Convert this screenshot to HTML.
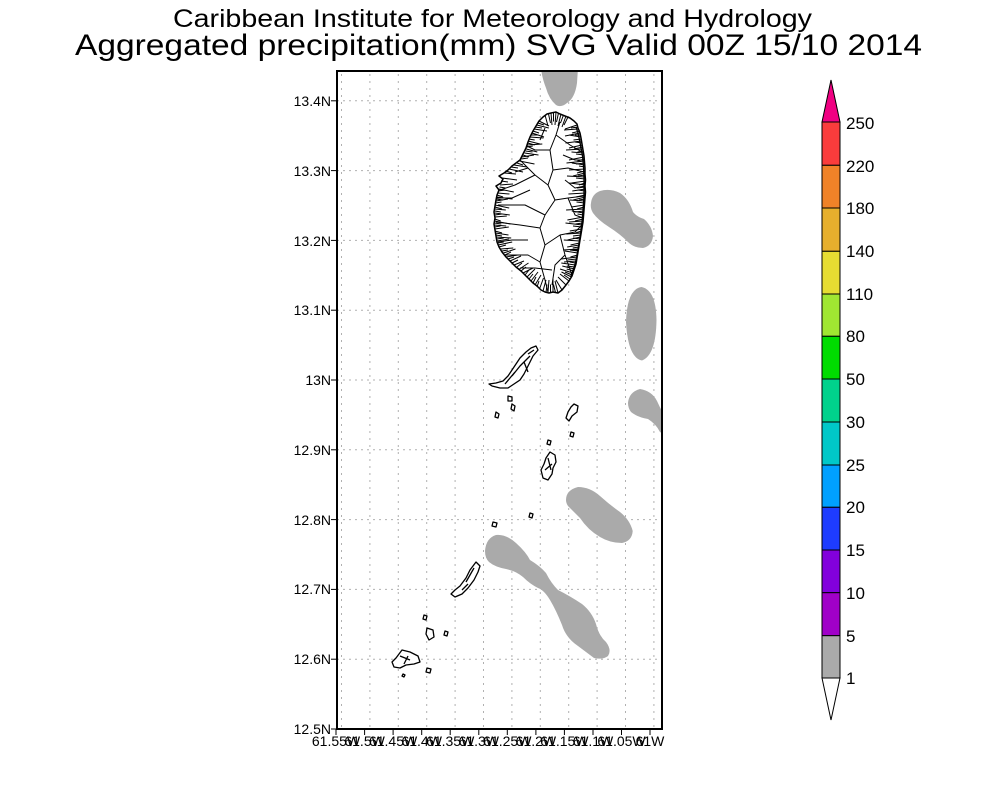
<!DOCTYPE html>
<html>
<head>
<meta charset="utf-8">
<style>
  html,body{margin:0;padding:0;background:#fff;}
  svg{display:block;}
  text{font-family:"Liberation Sans",sans-serif;fill:#000;}
</style>
</head>
<body>
<svg width="1000" height="800" viewBox="0 0 1000 800" xmlns="http://www.w3.org/2000/svg">
  <rect x="0" y="0" width="1000" height="800" fill="#fff"/>

  <!-- Titles -->
  <text x="173" y="27" font-size="25" textLength="639" lengthAdjust="spacingAndGlyphs">Caribbean Institute for Meteorology and Hydrology</text>
  <text x="75" y="55" font-size="30" textLength="847" lengthAdjust="spacingAndGlyphs">Aggregated precipitation(mm) SVG Valid 00Z 15/10 2014</text>

  <defs>
    <clipPath id="plot"><rect x="337" y="72" width="325" height="656"/></clipPath>
  </defs>

  <!-- Grid lines -->
  <g stroke="#b0b0b0" stroke-width="1" fill="none">
    <g stroke-dasharray="2,4">
      <line x1="337" y1="100.8" x2="662" y2="100.8"/>
      <line x1="337" y1="170.6" x2="662" y2="170.6"/>
      <line x1="337" y1="240.4" x2="662" y2="240.4"/>
      <line x1="337" y1="310.2" x2="662" y2="310.2"/>
      <line x1="337" y1="380" x2="662" y2="380"/>
      <line x1="337" y1="449.8" x2="662" y2="449.8"/>
      <line x1="337" y1="519.6" x2="662" y2="519.6"/>
      <line x1="337" y1="589.4" x2="662" y2="589.4"/>
      <line x1="337" y1="659.2" x2="662" y2="659.2"/>
    </g>
    <g stroke-dasharray="2,5">
      <line x1="341.5" y1="74" x2="341.5" y2="728"/>
      <line x1="369.9" y1="74" x2="369.9" y2="728"/>
      <line x1="398.3" y1="74" x2="398.3" y2="728"/>
      <line x1="426.7" y1="74" x2="426.7" y2="728"/>
      <line x1="455.1" y1="74" x2="455.1" y2="728"/>
      <line x1="483.5" y1="74" x2="483.5" y2="728"/>
      <line x1="511.9" y1="74" x2="511.9" y2="728"/>
      <line x1="540.3" y1="74" x2="540.3" y2="728"/>
      <line x1="568.7" y1="74" x2="568.7" y2="728"/>
      <line x1="597.1" y1="74" x2="597.1" y2="728"/>
      <line x1="625.5" y1="74" x2="625.5" y2="728"/>
      <line x1="653.9" y1="74" x2="653.9" y2="728"/>
    </g>
  </g>

  <!-- Precipitation blobs -->
  <g fill="#aaaaaa" clip-path="url(#plot)">
    <path d="M541,68 L578,68 L577,83 Q575,98 567,103 Q561,108 556,105 Q549,99 546,88 Q542,78 541,68 Z"/>
    <path d="M591,203 Q592,194 600,191 Q610,188 620,193 Q629,199 633,212 Q637,217 644,219 Q652,226 653,236 Q652,246 643,248 Q634,248 628,242 Q620,234 609,227 Q598,220 593,213 Q590,208 591,203 Z"/>
    <path d="M641.5,287 Q656,290 656.5,320 Q656,355 642,360.5 Q628,358 626,322 Q627,289 641.5,287 Z"/>
    <path d="M628,403 Q629,392 640,389 Q652,391 657,401 Q661,410 665,416 L665,435 L660,432 Q656,424 648,419 Q637,417 631,412 Q628,408 628,403 Z"/>
    <path d="M566,500 Q566,490 578,487 Q590,487 600,496 Q610,505 620,512 Q630,520 632.7,531 Q632,541 622,543 Q610,543 600,537 Q588,530 580,518 Q572,510 568,506 Q566,503 566,500 Z"/>
    <path d="M485,551 Q486,538 496,535 Q506,534 516,543 Q526,552 530,560 Q540,566 546,573 Q551,583 558,590 Q570,596 582,604 Q592,612 596,624 Q599,636 606,642 Q612,650 608,656 Q603,660 594,658 Q586,652 578,646 Q566,638 562,625 Q556,610 550,600 Q544,590 538,588 Q530,584 523,577 Q516,571 506,569 Q495,567 489,562 Q485,558 485,551 Z"/>
  </g>

  <!-- St Vincent -->
  <g fill="none" stroke="#000" stroke-width="1" stroke-linejoin="round">
    <path fill="#fff" stroke-width="1.5" d="M551,113 L556,112 L560,114 L565,116 L570,118 L574,121 L577,124 L578,128 L580,133 L581,138 L582,144 L583,150 L584,156 L584.5,162 L585,168 L585,174 L585.5,180 L585,186 L585.5,192 L585,198 L584.5,204 L584,210 L583.5,216 L583,222 L582,228 L581,234 L580,240 L579,246 L578,252 L577,258 L576,264 L574,270 L572,276 L569,281 L566,285 L562,290 L558,293 L553,292 L549,293 L545,292 L541,290 L537,286 L533,283 L529,279 L525,275 L521,271 L516,267 L511,262 L506,257 L502,252 L499,247 L497,242 L496,236 L495,230 L494,224 L495,218 L494,212 L495,206 L496,200 L497,195 L499,190 L496,186 L501,183 L503,179 L499,176 L504,173 L508,170 L512,166 L516,163 L520,160 L523,154 L526,148 L528,142 L530,137 L533,131 L536,126 L539,121 L543,117 L547,114 Z"/>
    <!-- inner thick east coast edge -->
    <path stroke-width="1.3" d="M576,127 L578,133 L579.5,140 L581,148 L582.5,156 L583.5,166 L584,178 L584,196 L583,210 L582,222 L580.5,234 L578.5,246 L576.5,258 L574.5,266 L571,276"/>
    <!-- east coast drainage lines -->
    <path d="M577,125l-12,4 M578,129l-14,1 M580,133l-15,3 M581,137l-12,-2 M581.5,141l-16,2 M582,145l-13,3 M583,149l-17,1 M583.5,153l-12,-1 M584,157l-15,3 M584.5,161l-18,2 M584.8,165l-13,-2 M585,169l-16,1 M585,173l-12,3 M585,177l-18,-1 M585.4,181l-14,2 M585.2,185l-16,-2 M585.3,189l-13,2 M585.4,193l-17,1 M585.2,197l-12,3 M584.8,201l-15,-1 M584.4,205l-13,2 M584.1,209l-18,1 M583.8,213l-12,-2 M583.4,217l-16,3 M583.1,221l-14,1 M582.5,225l-17,-2 M581.8,229l-12,2 M581.3,233l-15,1 M580.5,237l-13,3 M579.8,241l-16,-1 M579.2,245l-12,2 M578.2,249l-15,1 M577.8,253l-13,-2 M577.2,257l-16,2 M576,261l-12,1 M575.3,265l-14,-2 M574.3,269l-12,-3 M573,273l-13,-4 M571.5,277l-10,-5 M569,281l-9,-7 M566,285l-8,-8"/>
    <path d="M578,127l-7,1 M580,131l-8,2 M581,135l-6,0 M581.5,139l-8,1 M582,143l-7,-1 M583,147l-9,2 M583.5,151l-6,1 M584,155l-8,-1 M584.5,159l-7,2 M585,163l-9,1 M585,167l-6,-1 M585,171l-8,2 M585,175l-7,1 M585,179l-9,-1 M585,183l-6,2 M585,187l-8,1 M585,191l-7,-1 M585,195l-9,2 M585,199l-6,1 M584.5,203l-8,-1 M584,207l-7,2 M584,211l-9,1 M583.5,215l-6,-1 M583,219l-8,2 M582.5,223l-7,1 M582,227l-9,-1 M581.5,231l-6,2 M581,235l-8,1 M580,239l-7,-1 M579.5,243l-9,2 M578.7,247l-6,1 M578,251l-8,-1 M577.5,255l-7,2 M576.5,259l-9,1 M575.7,263l-6,-1 M574.8,267l-8,-1 M573.7,271l-7,-2 M572,275l-7,-3 M570,279l-6,-4"/>
    <!-- west coast drainage lines -->
    <path d="M539,121l10,5 M536.8,125l12,3 M534,129l13,2 M532,133l12,4 M529.5,137l14,1 M528,141l12,3 M527.3,145l15,-1 M526.3,149l11,3 M524.5,153l14,2 M522,157l12,-2 M519.5,161l15,3 M514,165l13,2 M509,169l14,3 M504,173l12,1 M502,178l15,2 M500,185l13,-1 M498.8,189l15,3 M497.5,193l12,1 M496.5,197l16,2 M496,201l12,-2 M495.2,205l14,3 M494.8,209l11,1 M494.8,213l15,2 M494.8,217l12,-1 M494.5,221l16,3 M494.2,225l12,1 M494.8,229l14,-2 M495.5,233l13,2 M496.2,237l15,1 M497.2,241l12,-2 M498.2,245l14,-3 M500.3,249l13,-1 M503.5,253l12,-4 M506,257l12,-2 M510,261l11,-5 M514,265l10,-4 M519.5,269l9,-6 M523,273l10,-5 M527,277l8,-8 M531,281l7,-9 M535,285l6,-10 M539.5,289l4,-11"/>
    <path d="M538,123l6,2 M535,127l7,1 M533,131l6,2 M531,135l7,0 M528.7,139l6,1 M527.7,143l7,2 M526.8,147l6,-1 M525.5,151l7,1 M523,155l6,2 M521,159l7,-1 M517,163l6,2 M511,167l7,1 M506,171l6,2 M501,181l7,1 M499.5,187l6,1 M498,191l7,-1 M497,195l6,2 M496,199l7,1 M495.5,203l6,-1 M495,207l7,2 M494.8,211l6,1 M494.8,215l7,-1 M494.7,219l6,2 M494.3,223l7,1 M494.5,227l6,-1 M495,231l7,2 M496,235l6,1 M496.7,239l7,-1 M497.7,243l6,-1 M499,247l7,-2 M502,251l6,-1 M505,255l6,-3 M508,259l6,-2 M512,263l6,-3 M517,267l5,-4 M521,271l5,-4 M525,275l4,-5 M529,279l4,-5 M533,283l3,-6 M537,287l2,-6"/>
    <!-- top & bottom -->
    <path d="M551,113l1,12 M556,112l-1,13 M561,114l-3,12 M566,116l-4,11 M545,115l3,11 M558,293l-3,-12 M553,292l0,-13 M548,292l1,-12 M543,291l3,-11 M562,290l-6,-10 M548.5,114l2,9 M553.5,112.5l0,9 M558.5,113l-2,9 M563.5,115l-3,8 M568,117l-4,8 M555.5,292.5l-2,-8 M550.5,292.5l0,-8 M546,292.5l1,-8"/>
    <!-- internal watershed network -->
    <path d="M520,160 L528,168 L535,175 L548,185 L555,200 L568,198 L584,196"/>
    <path d="M548,185 L553,170 L550,150 L556,135 L560,122"/>
    <path d="M556,135 L570,145 L582,152"/>
    <path d="M553,170 L568,168 L584,172"/>
    <path d="M555,200 L545,215 L540,228 L520,225 L496,222"/>
    <path d="M540,228 L545,245 L540,262 L545,280 L548,292"/>
    <path d="M545,245 L560,235 L575,232 L582,225"/>
    <path d="M540,262 L528,255 L505,255"/>
    <path d="M560,235 L565,255 L572,275"/>
    <path d="M535,175 L515,185 L500,190"/>
    <path d="M545,215 L525,205 L498,205"/>
    <path d="M528,168 L515,172"/>
    <path d="M550,150 L535,150 L527,146"/>
    <path d="M565,255 L555,265 L552,285"/>
    <path d="M568,198 L575,215 L583,218"/>
    <path d="M530,190 L512,198 L497,198"/>
    <path d="M528,240 L512,240 L498,242"/>
    <path d="M552,270 L535,268 L520,268"/>
    <path d="M565,180 L575,188 L585,186"/>
    <path d="M563,155 L575,160 L584,160"/>
    <path d="M540,140 L545,128"/>
    <path d="M570,250 L578,250"/>
  </g>

  <!-- Grenadines -->
  <g fill="#fff" stroke="#000" stroke-width="1.3" stroke-linejoin="round">
    <path d="M536,346 L538,350 L533,356 L530,362 L527,368 L524,374 L520,380 L514,384 L508,388 L500,388 L492,386 L489,384 L496,383 L503,381 L508,376 L512,370 L516,364 L520,358 L526,352 L531,348 Z"/>
    <path fill="none" d="M530,356 L520,366 L512,376 M515,372 L505,384 M524,362 L528,372 M534,350 L528,354"/>
    <path d="M508,396 L512,397 L512,401 L508,401 Z"/>
    <path d="M512,404 L515,406 L514,411 L511,409 Z"/>
    <path d="M496,412 L499,414 L498,418 L495,417 Z"/>
    <path d="M574,404 L578,406 L577,412 L572,416 L569,421 L566,418 L568,412 L571,407 Z"/>
    <path d="M571,432 L574,433 L573,437 L570,436 Z"/>
    <path d="M548,440 L551,441 L550,445 L547,444 Z"/>
    <path d="M550,452 L555,455 L556,462 L553,468 L552,474 L548,480 L543,478 L541,470 L544,464 L546,458 Z"/>
    <path fill="none" d="M548,458 L551,470 M545,470 L552,464"/>
    <path d="M530,513 L533,514 L532,518 L529,517 Z"/>
    <path d="M493,522 L497,523 L496,527 L492,526 Z"/>
    <path d="M476,562 L480,566 L478,572 L474,580 L468,588 L462,594 L455,597 L451,594 L455,590 L460,586 L466,578 L470,570 Z"/>
    <path fill="none" d="M474,568 L466,582 M462,590 L468,584"/>
    <path d="M424,615 L427,616 L426,620 L423,619 Z"/>
    <path d="M427,628 L433,630 L434,637 L429,640 L426,634 Z"/>
    <path d="M445,631 L448,632 L447,636 L444,635 Z"/>
    <path d="M402,650 L410,652 L418,656 L420,662 L414,664 L406,665 L400,668 L394,667 L392,662 L396,658 Z"/>
    <path fill="none" d="M400,656 L410,660 M404,664 L408,656"/>
    <path d="M427,668 L431,669 L430,673 L426,672 Z"/>
    <path d="M403,674 L405,675 L404,677 L402,676 Z"/>
  </g>

  <!-- Frame -->
  <rect x="337" y="71" width="325" height="658" fill="none" stroke="#000" stroke-width="2"/>

  <!-- Y ticks & labels -->
  <g stroke="#000" stroke-width="1">
    <line x1="331" y1="100.8" x2="337" y2="100.8"/>
    <line x1="331" y1="170.6" x2="337" y2="170.6"/>
    <line x1="331" y1="240.4" x2="337" y2="240.4"/>
    <line x1="331" y1="310.2" x2="337" y2="310.2"/>
    <line x1="331" y1="380" x2="337" y2="380"/>
    <line x1="331" y1="449.8" x2="337" y2="449.8"/>
    <line x1="331" y1="519.6" x2="337" y2="519.6"/>
    <line x1="331" y1="589.4" x2="337" y2="589.4"/>
    <line x1="331" y1="659.2" x2="337" y2="659.2"/>
    <line x1="331" y1="729" x2="337" y2="729"/>
  </g>
  <g font-size="14" text-anchor="end">
    <text x="331" y="106">13.4N</text>
    <text x="331" y="176">13.3N</text>
    <text x="331" y="246">13.2N</text>
    <text x="331" y="315">13.1N</text>
    <text x="331" y="385">13N</text>
    <text x="331" y="455">12.9N</text>
    <text x="331" y="525">12.8N</text>
    <text x="331" y="594">12.7N</text>
    <text x="331" y="664">12.6N</text>
    <text x="331" y="734">12.5N</text>
  </g>

  <!-- X ticks & labels -->
  <g stroke="#000" stroke-width="1">
    <line x1="336" y1="729" x2="336" y2="735"/>
    <line x1="364.6" y1="729" x2="364.6" y2="735"/>
    <line x1="393.1" y1="729" x2="393.1" y2="735"/>
    <line x1="421.7" y1="729" x2="421.7" y2="735"/>
    <line x1="450.2" y1="729" x2="450.2" y2="735"/>
    <line x1="478.8" y1="729" x2="478.8" y2="735"/>
    <line x1="507.3" y1="729" x2="507.3" y2="735"/>
    <line x1="535.9" y1="729" x2="535.9" y2="735"/>
    <line x1="564.4" y1="729" x2="564.4" y2="735"/>
    <line x1="593" y1="729" x2="593" y2="735"/>
    <line x1="621.5" y1="729" x2="621.5" y2="735"/>
    <line x1="650" y1="729" x2="650" y2="735"/>
  </g>
  <g font-size="14" text-anchor="middle">
    <text x="336" y="746">61.55W</text>
    <text x="364.6" y="746">61.5W</text>
    <text x="393.1" y="746">61.45W</text>
    <text x="421.7" y="746">61.4W</text>
    <text x="450.2" y="746">61.35W</text>
    <text x="478.8" y="746">61.3W</text>
    <text x="507.3" y="746">61.25W</text>
    <text x="535.9" y="746">61.2W</text>
    <text x="564.4" y="746">61.15W</text>
    <text x="593" y="746">61.1W</text>
    <text x="621.5" y="746">61.05W</text>
    <text x="650" y="746">61W</text>
  </g>

  <!-- Colorbar -->
  <g stroke="#000" stroke-width="1">
    <polygon points="822,122 840,122 831,80" fill="rgb(240,0,130)"/>
    <rect x="822" y="122" width="18" height="43.3" fill="rgb(250,60,60)"/>
    <rect x="822" y="165.3" width="18" height="42.7" fill="rgb(240,130,40)"/>
    <rect x="822" y="208" width="18" height="43.3" fill="rgb(230,175,45)"/>
    <rect x="822" y="251.3" width="18" height="42.7" fill="rgb(230,220,50)"/>
    <rect x="822" y="294" width="18" height="42.3" fill="rgb(160,230,50)"/>
    <rect x="822" y="336.3" width="18" height="42.7" fill="rgb(0,220,0)"/>
    <rect x="822" y="379" width="18" height="43" fill="rgb(0,210,140)"/>
    <rect x="822" y="422" width="18" height="43" fill="rgb(0,200,200)"/>
    <rect x="822" y="465" width="18" height="42.3" fill="rgb(0,160,255)"/>
    <rect x="822" y="507.3" width="18" height="42.7" fill="rgb(30,60,255)"/>
    <rect x="822" y="550" width="18" height="42.7" fill="rgb(130,0,220)"/>
    <rect x="822" y="592.7" width="18" height="43" fill="rgb(160,0,200)"/>
    <rect x="822" y="635.7" width="18" height="42.3" fill="rgb(170,170,170)"/>
    <polygon points="822,678 840,678 831,720" fill="#fff"/>
  </g>
  <g font-size="17">
    <text x="846" y="129">250</text>
    <text x="846" y="172">220</text>
    <text x="846" y="214">180</text>
    <text x="846" y="257">140</text>
    <text x="846" y="300">110</text>
    <text x="846" y="342">80</text>
    <text x="846" y="385">50</text>
    <text x="846" y="428">30</text>
    <text x="846" y="471">25</text>
    <text x="846" y="513">20</text>
    <text x="846" y="556">15</text>
    <text x="846" y="599">10</text>
    <text x="846" y="642">5</text>
    <text x="846" y="684">1</text>
  </g>
</svg>
</body>
</html>
